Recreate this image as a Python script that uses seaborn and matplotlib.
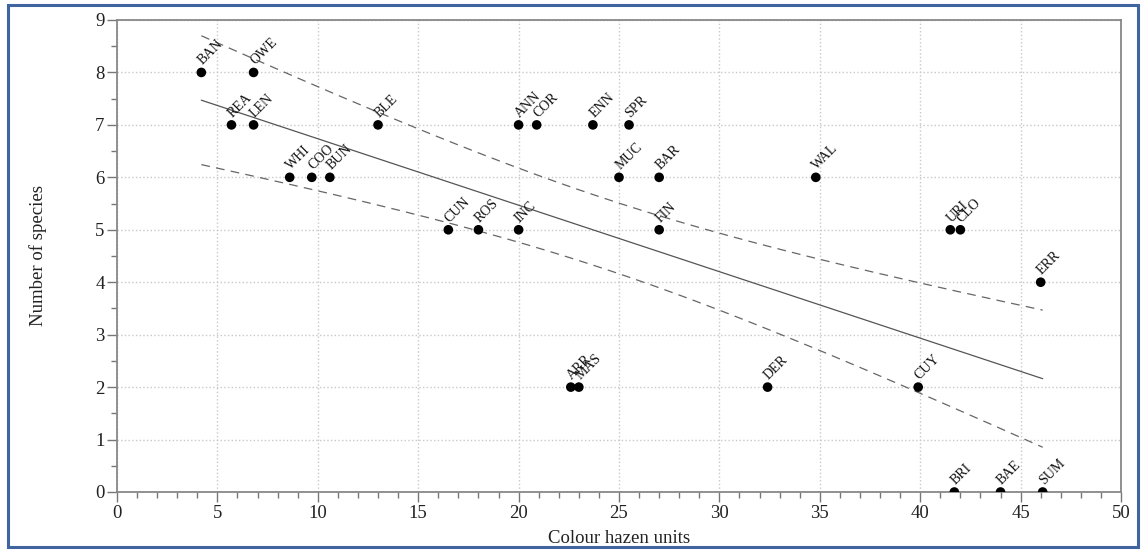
import numpy as np
import pandas as pd
import matplotlib
matplotlib.use("Agg")
import matplotlib.pyplot as plt
from matplotlib.patches import Rectangle
from matplotlib.ticker import MultipleLocator
import seaborn as sns

# ---- data ----
sites = ["BAN", "OWE", "REA", "LEN", "BLE", "WHI", "COO", "BUN", "CUN", "ROS",
         "INC", "ANN", "COR", "ENN", "SPR", "MUC", "BAR", "FIN", "WAL", "URI",
         "CLO", "ERR", "ARR", "MAS", "DER", "CUY", "BRI", "BAE", "SUM"]
colour = [4.2, 6.8, 5.7, 6.8, 13.0, 8.6, 9.7, 10.6, 16.5, 18.0,
          20.0, 20.0, 20.9, 23.7, 25.5, 25.0, 27.0, 27.0, 34.8, 41.5,
          42.0, 46.0, 22.6, 23.0, 32.4, 39.9, 41.7, 44.0, 46.1]
species = [8, 8, 7, 7, 7, 6, 6, 6, 5, 5,
           5, 7, 7, 7, 7, 6, 6, 5, 6, 5,
           5, 4, 2, 2, 2, 2, 0, 0, 0]

x_ticks = [0, 5, 10, 15, 20, 25, 30, 35, 40, 45, 50]
y_ticks = [0, 1, 2, 3, 4, 5, 6, 7, 8, 9]

df = pd.DataFrame({"site": sites, "colour": colour, "species": species})

# ---- 95% confidence band of the OLS fit ----
x = np.asarray(colour, float)
y = np.asarray(species, float)
n = len(x)
b1, b0 = np.polyfit(x, y, 1)
resid = y - (b0 + b1 * x)
s = np.sqrt(np.sum(resid ** 2) / (n - 2))
sxx = np.sum((x - x.mean()) ** 2)
t_crit = 2.052  # t(0.975, df=27)
xg = np.linspace(x.min(), x.max(), 200)
yg = b0 + b1 * xg
half = t_crit * s * np.sqrt(1.0 / n + (xg - x.mean()) ** 2 / sxx)
band = pd.DataFrame({"x": xg, "lo": yg - half, "hi": yg + half})

# ---- figure ----
sns.set_theme(style="white")
plt.rcParams["font.family"] = ["Liberation Serif", "DejaVu Serif"]

fig = plt.figure(figsize=(11.43, 5.51), dpi=100)
ax = fig.add_axes([117 / 1143, 1 - 492 / 551, (1121 - 117) / 1143, (492 - 20) / 551])

ax.grid(True, which="major", linestyle=":", color="#c8c8c8", linewidth=1.0)
ax.set_axisbelow(True)

sns.regplot(data=df, x="colour", y="species", ax=ax, ci=None, scatter=False,
            truncate=True, line_kws=dict(color="#555555", linewidth=0.9))
sns.lineplot(data=band, x="x", y="lo", ax=ax, color="#666666", linewidth=0.9,
             linestyle=(0, (7, 5)))
sns.lineplot(data=band, x="x", y="hi", ax=ax, color="#666666", linewidth=0.9,
             linestyle=(0, (7, 5)))
sns.scatterplot(data=df, x="colour", y="species", ax=ax, color="black", s=48,
                edgecolor="none", zorder=5, legend=False)

for sx, sy, lab in zip(colour, species, sites):
    ax.annotate(lab, (sx, sy), xytext=(2.5, 3.5), textcoords="offset points",
                rotation=45, rotation_mode="anchor", ha="left", va="bottom",
                fontsize=10, color="#111111")

ax.set_xlim(0, 50)
ax.set_ylim(0, 9)
ax.set_xticks(x_ticks)
ax.set_yticks(y_ticks)
ax.xaxis.set_minor_locator(MultipleLocator(1))
ax.yaxis.set_minor_locator(MultipleLocator(0.5))
ax.tick_params(axis="both", which="major", direction="out", length=7, width=1,
               color="#777777", labelsize=13.5, labelcolor="#222222", pad=2,
               bottom=True, left=True)
ax.tick_params(axis="both", which="minor", direction="out", length=4, width=1,
               color="#777777", bottom=True, left=True)
ax.set_xlabel("Colour hazen units", fontsize=13.5, color="#222222", labelpad=6)
ax.set_ylabel("Number of species", fontsize=13.5, color="#222222", labelpad=35)

for sp in ax.spines.values():
    sp.set_color("#888888")
    sp.set_linewidth(1.3)
    sp.set_visible(True)

fig.patches.append(Rectangle((8 / 1143, 4 / 551), (1138 - 8) / 1143, (546 - 4) / 551,
                             transform=fig.transFigure, fill=False,
                             edgecolor="#3f64a0", linewidth=2.2, zorder=10))

fig.savefig("out.png", dpi=100)
